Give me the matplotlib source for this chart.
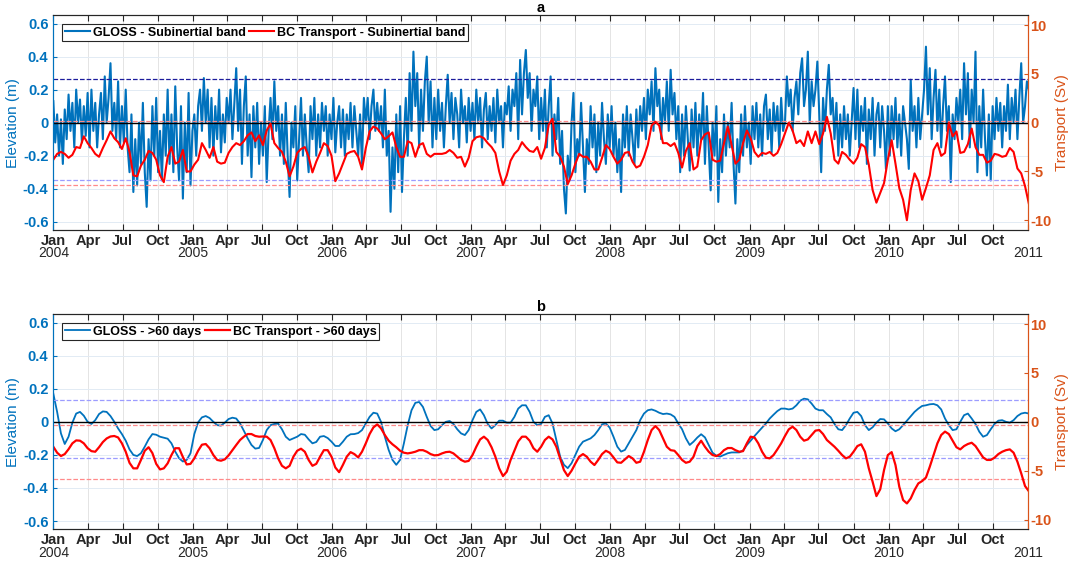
import numpy as np
import pandas as pd
import matplotlib
matplotlib.use('Agg')
import matplotlib.pyplot as plt
import matplotlib.dates as mdates
from matplotlib.ticker import FuncFormatter
from matplotlib.transforms import blended_transform_factory

plt.rcParams['font.family'] = ['Liberation Sans', 'DejaVu Sans']
plt.rcParams['font.weight'] = 'bold'
plt.rcParams['axes.unicode_minus'] = False

# sampling grids
t5 = pd.date_range('2004-01-01', periods=513, freq='5D')
t10 = pd.date_range('2004-01-01', periods=257, freq='10D')

# GLOSS sea level, subinertial band (m), 5-day steps
gloss_sub = [
    0.13, -0.12, 0.05, -0.20, 0.02, -0.25, 0.08, -0.10, 0.17, -0.05,
    0.12, -0.15, 0.20, 0.00, 0.14, -0.12, 0.10, -0.08, 0.18, -0.15,
    0.20, -0.05, 0.12, -0.15, 0.05, 0.18, -0.10, 0.28, 0.00, 0.15,
    0.36, -0.05, 0.12, -0.10, 0.25, -0.15, 0.10, -0.12, 0.20, -0.15,
    -0.30, 0.05, -0.42, -0.10, -0.38, 0.00, -0.25, 0.12, -0.30, -0.51,
    -0.10, -0.35, 0.10, -0.20, 0.15, -0.30, -0.05, -0.35, 0.05, -0.20,
    0.20, -0.25, 0.05, -0.30, 0.22, -0.15, -0.35, 0.10, -0.46, 0.00,
    -0.30, 0.18, -0.38, -0.05, 0.05, -0.20, 0.10, 0.20, -0.05, 0.27,
    0.00, 0.20, -0.15, 0.15, -0.20, 0.10, -0.10, 0.20, -0.18, 0.05,
    -0.12, 0.15, 0.00, 0.20, -0.10, 0.12, 0.33, -0.05, 0.20, -0.25,
    0.10, 0.28, -0.20, 0.05, -0.33, 0.10, -0.15, 0.12, -0.25, 0.00,
    -0.20, 0.10, -0.36, -0.05, 0.15, -0.10, 0.25, -0.05, 0.10, -0.20,
    0.05, -0.25, 0.12, -0.20, -0.45, 0.00, -0.15, 0.10, -0.35, -0.10,
    0.15, -0.20, 0.05, -0.15, -0.30, 0.10, -0.10, 0.15, -0.20, 0.05,
    -0.15, 0.12, -0.05, 0.10, -0.20, 0.05, -0.10, 0.15, -0.18, 0.00,
    0.10, -0.15, 0.08, -0.20, 0.05, -0.10, 0.12, -0.15, 0.10, -0.05,
    -0.20, 0.05, -0.25, 0.15, 0.00, 0.15, -0.10, 0.10, 0.20, -0.05,
    0.12, -0.05, 0.10, -0.15, 0.20, -0.20, -0.05, -0.54, -0.15, -0.40,
    0.05, -0.30, 0.10, -0.42, -0.10, 0.15, -0.20, 0.30, -0.05, 0.43,
    0.10, 0.30, -0.15, 0.20, -0.05, 0.25, 0.40, 0.00, 0.25, -0.15,
    0.15, -0.10, 0.20, -0.05, 0.12, -0.15, 0.10, 0.29, 0.00, 0.18,
    -0.10, 0.15, 0.05, -0.15, 0.20, 0.00, 0.10, -0.12, 0.15, -0.05,
    0.12, -0.10, 0.20, 0.00, 0.15, -0.15, 0.08, 0.18, -0.10, 0.10,
    -0.05, 0.15, -0.12, 0.20, 0.00, 0.10, -0.15, 0.12, 0.05, 0.22,
    -0.05, 0.20, 0.10, 0.30, -0.10, 0.38, 0.05, 0.30, 0.44, 0.15,
    0.30, -0.05, 0.20, 0.10, 0.28, -0.10, 0.15, -0.05, 0.20, -0.15,
    0.10, 0.28, -0.20, 0.05, -0.10, 0.15, -0.25, -0.05, -0.40, -0.55,
    -0.20, -0.35, 0.00, 0.18, -0.30, -0.10, -0.20, 0.12, -0.15, -0.42,
    -0.10, -0.25, 0.10, -0.15, 0.05, -0.30, 0.00, -0.20, 0.12, -0.10,
    -0.25, 0.05, -0.15, 0.10, -0.20, 0.00, -0.30, -0.10, -0.42, 0.05,
    -0.15, 0.10, -0.20, 0.05, -0.10, -0.25, 0.08, -0.15, 0.10, -0.05,
    0.15, -0.10, 0.20, 0.05, 0.25, -0.05, 0.33, 0.10, 0.20, -0.10,
    0.15, 0.00, 0.25, -0.05, 0.32, 0.05, 0.18, -0.10, 0.10, -0.30,
    0.05, -0.20, 0.10, -0.10, -0.29, 0.08, -0.15, 0.12, -0.20, 0.05,
    -0.10, 0.18, -0.25, 0.10, -0.15, -0.41, 0.00, -0.20, 0.10, -0.48,
    -0.10, -0.30, 0.05, -0.20, 0.00, -0.15, 0.12, -0.25, -0.49, -0.10,
    -0.30, 0.05, -0.20, 0.10, -0.15, 0.00, -0.25, 0.10, -0.10, 0.12,
    -0.15, 0.05, -0.20, 0.10, 0.17, -0.10, 0.08, -0.18, 0.12, -0.05,
    0.10, -0.15, 0.15, -0.05, 0.00, 0.28, 0.10, 0.20, -0.05, 0.15,
    0.25, 0.05, 0.30, 0.39, 0.10, 0.20, 0.43, 0.00, 0.25, 0.10,
    0.20, 0.37, 0.05, -0.30, 0.15, -0.05, 0.20, 0.35, 0.05, 0.15,
    -0.10, 0.12, -0.20, 0.05, -0.15, 0.10, -0.10, 0.05, -0.20, 0.00,
    0.21, -0.10, 0.20, -0.15, 0.10, -0.05, 0.15, -0.25, 0.08, -0.10,
    0.15, -0.20, 0.05, 0.12, -0.15, 0.10, -0.05, -0.28, 0.10, -0.20,
    0.10, -0.10, 0.15, -0.15, 0.05, -0.20, 0.10, 0.00, -0.10, -0.28,
    0.26, -0.05, 0.10, -0.15, 0.15, -0.10, 0.05, 0.20, 0.46, 0.05,
    0.33, -0.10, 0.15, 0.32, -0.05, 0.20, -0.15, 0.10, 0.28, -0.05,
    0.10, -0.36, 0.05, -0.10, 0.15, 0.00, 0.20, -0.10, 0.36, 0.05,
    0.30, -0.15, 0.20, 0.00, 0.43, -0.30, 0.10, -0.15, 0.20, -0.10,
    -0.32, 0.05, -0.35, 0.10, -0.10, 0.15, -0.05, 0.12, -0.15, 0.10,
    -0.05, 0.23, -0.10, 0.15, 0.00, 0.20, -0.10, 0.15, 0.36, 0.00,
    0.10, 0.25, 0.20,
]

# Brazil Current transport, subinertial band (Sv), 10-day steps
bc_sub = [
    -3.8, -3.2, -3.0, -3.2, -3.6, -3.3, -2.5, -2.6, -1.4, -2.1,
    -2.6, -3.2, -3.5, -2.6, -1.8, -0.9, -1.6, -2.0, -2.7, -1.6,
    -3.0, -5.4, -5.5, -4.4, -3.8, -2.9, -3.1, -3.8, -5.4, -6.1,
    -3.5, -2.5, -4.2, -4.0, -2.8, -5.0, -5.0, -4.3, -3.8, -2.1,
    -2.8, -3.6, -2.5, -4.0, -4.2, -4.1, -3.1, -2.5, -2.1, -2.3,
    -1.9, -1.3, -1.0, -1.9, -1.3, -2.3, -0.8, -0.1, -2.1, -2.6,
    -3.0, -4.0, -5.5, -4.5, -3.1, -2.7, -2.5, -3.5, -5.1, -4.0,
    -3.1, -2.1, -2.4, -3.4, -6.0, -5.2, -4.2, -3.2, -3.0, -2.9,
    -3.5, -4.8, -2.6, -0.9, -0.4, -0.6, -1.1, -1.7, -1.4, -1.0,
    -2.5, -3.5, -3.5, -1.9, -2.1, -3.5, -2.3, -2.1, -3.2, -3.5,
    -3.2, -3.2, -3.2, -3.1, -2.8, -3.1, -3.6, -3.5, -4.5, -3.6,
    -1.9, -1.5, -1.4, -1.6, -2.1, -2.5, -3.1, -5.0, -6.4, -5.4,
    -3.9, -3.2, -2.8, -2.0, -2.5, -2.9, -3.0, -2.5, -3.7, -2.6,
    -0.2, 0.4, -3.0, -3.5, -4.5, -6.3, -5.4, -4.2, -3.2, -3.5,
    -3.5, -4.0, -4.8, -4.8, -3.6, -2.3, -2.7, -3.5, -4.2, -3.8,
    -3.1, -3.0, -4.0, -4.6, -4.4, -3.5, -2.3, -0.3, 0.1, -0.3,
    -2.1, -2.1, -2.4, -2.1, -3.1, -4.6, -2.9, -2.1, -4.8, -4.5,
    -1.8, -1.2, -1.0, -3.8, -4.0, -3.9, -2.1, -0.4, -2.3, -4.2,
    -3.8, -2.1, -0.8, -1.6, -3.0, -3.5, -3.1, -3.2, -3.0, -3.4,
    -3.1, -2.2, -1.1, 0.0, -0.8, -2.1, -1.8, -2.4, -0.9, -2.1,
    -0.9, -2.2, -1.1, 0.6, -1.1, -3.8, -4.2, -3.0, -3.3, -3.8,
    -4.2, -3.6, -2.2, -2.5, -4.3, -6.9, -8.2, -7.2, -6.2, -3.8,
    -1.8, -4.2, -6.7, -7.9, -10.0, -6.9, -5.2, -6.0, -7.9, -6.7,
    -5.4, -2.8, -2.1, -3.4, -3.1, 0.0, -1.4, -0.9, -3.1, -3.0,
    -2.2, -0.6, -2.5, -3.3, -3.3, -4.1, -3.9, -3.2, -3.3, -3.5,
    -3.4, -2.6, -3.0, -4.7, -5.2, -6.5, -8.3,
]

# GLOSS sea level, periods > 60 days (m), 10-day steps
gloss_60 = [
    0.17, 0.06, -0.07, -0.134, -0.09, -0.005, 0.05, 0.06, 0.037, 0.0,
    -0.013, 0.01, 0.047, 0.063, 0.06, 0.035, 0.0, -0.04, -0.074, -0.114,
    -0.167, -0.2, -0.207, -0.19, -0.15, -0.106, -0.074, -0.078, -0.09, -0.096,
    -0.102, -0.13, -0.18, -0.22, -0.24, -0.23, -0.19, -0.074, -0.003, 0.027,
    0.035, 0.023, 0.0, -0.02, -0.023, -0.005, 0.017, 0.025, 0.02, -0.01,
    -0.054, -0.1, -0.14, -0.162, -0.158, -0.11, -0.05, -0.02, -0.013, -0.011,
    -0.045, -0.09, -0.11, -0.1, -0.09, -0.074, -0.078, -0.106, -0.13, -0.122,
    -0.09, -0.086, -0.098, -0.12, -0.146, -0.146, -0.12, -0.09, -0.075, -0.074,
    -0.068, -0.05, -0.01, 0.03, 0.055, 0.05, 0.0, -0.09, -0.17, -0.23,
    -0.26, -0.23, -0.13, -0.02, 0.07, 0.115, 0.12, 0.09, 0.03, -0.025,
    -0.05, -0.045, -0.02, 0.0, 0.005, -0.013, -0.045, -0.07, -0.08, -0.05,
    0.01, 0.06, 0.075, 0.04, -0.013, -0.04, -0.02, 0.007, 0.007, -0.005,
    -0.005, 0.03, 0.08, 0.1, 0.1, 0.06, 0.0, -0.02, -0.013, 0.03,
    0.04, -0.01, -0.11, -0.21, -0.26, -0.28, -0.25, -0.2, -0.15, -0.12,
    -0.11, -0.1, -0.08, -0.05, -0.015, -0.01, -0.035, -0.09, -0.15, -0.18,
    -0.17, -0.13, -0.09, -0.05, 0.01, 0.05, 0.07, 0.075, 0.067, 0.055,
    0.047, 0.05, 0.045, 0.03, -0.01, -0.045, -0.1, -0.14, -0.12, -0.095,
    -0.075, -0.094, -0.14, -0.187, -0.205, -0.21, -0.2, -0.19, -0.185, -0.185,
    -0.185, -0.173, -0.14, -0.114, -0.086, -0.06, -0.035, -0.01, 0.02, 0.043,
    0.065, 0.08, 0.08, 0.075, 0.08, 0.1, 0.128, 0.14, 0.136, 0.11,
    0.08, 0.07, 0.07, 0.047, 0.027, -0.013, -0.045, -0.05, -0.02, 0.02,
    0.055, 0.06, 0.035, -0.02, -0.05, -0.033, -0.005, 0.017, 0.015, -0.01,
    -0.04, -0.057, -0.045, -0.02, 0.007, 0.035, 0.06, 0.08, 0.096, 0.1,
    0.106, 0.108, 0.1, 0.075, 0.02, -0.02, -0.05, -0.045, 0.0, 0.04,
    0.05, 0.02, -0.013, -0.06, -0.09, -0.08, -0.045, -0.013, 0.007, 0.01,
    0.0, -0.005, 0.01, 0.035, 0.05, 0.055, 0.05,
]

# Brazil Current transport, periods > 60 days (Sv), 10-day steps
bc_60 = [
    -2.55, -3.16, -3.5, -3.3, -2.8, -2.2, -1.9, -1.93, -2.2, -2.7,
    -3.0, -3.06, -2.6, -2.07, -1.7, -1.5, -1.45, -1.6, -2.2, -3.06,
    -4.2, -4.76, -4.76, -3.9, -2.96, -2.6, -3.2, -4.3, -4.87, -4.76,
    -4.25, -3.4, -2.7, -2.7, -3.6, -4.36, -4.3, -3.74, -2.96, -2.34,
    -2.27, -2.7, -3.4, -3.9, -3.98, -3.84, -3.43, -2.9, -2.37, -1.86,
    -1.52, -1.25, -1.25, -1.45, -1.52, -1.5, -1.52, -1.86, -2.7, -3.74,
    -4.5, -4.76, -4.5, -3.57, -2.96, -2.75, -3.06, -3.9, -4.5, -4.3,
    -3.57, -2.9, -2.9, -3.57, -4.67, -5.15, -4.4, -3.57, -3.1, -3.3,
    -3.64, -3.06, -2.2, -1.25, -0.57, -0.26, -0.67, -1.35, -1.93, -2.3,
    -2.6, -2.96, -3.16, -3.23, -3.16, -3.06, -2.9, -2.9, -3.06, -3.3,
    -3.43, -3.4, -3.23, -3.1, -3.06, -3.23, -3.57, -3.9, -4.08, -4.0,
    -3.4, -2.55, -1.8, -1.52, -1.86, -2.6, -3.57, -4.76, -5.55, -5.1,
    -3.9, -2.96, -2.0, -1.52, -1.52, -1.93, -2.7, -3.06, -2.55, -1.86,
    -1.52, -1.8, -2.55, -3.74, -4.94, -5.55, -5.0, -4.26, -3.57, -3.3,
    -3.57, -4.08, -4.42, -3.9, -3.3, -2.96, -3.16, -3.64, -4.15, -4.19,
    -3.84, -3.5, -3.74, -4.19, -4.08, -3.06, -1.86, -0.84, -0.43, -0.84,
    -1.7, -2.55, -2.9, -2.96, -3.4, -3.9, -4.19, -4.08, -3.57, -2.48,
    -1.93, -2.55, -3.06, -3.4, -3.5, -3.3, -2.9, -2.68, -2.68, -2.9,
    -3.06, -3.0, -2.2, -1.52, -1.6, -2.2, -3.06, -3.67, -3.74, -3.4,
    -2.82, -2.2, -1.45, -0.77, -0.5, -0.84, -1.52, -1.93, -1.8, -1.35,
    -0.9, -0.84, -1.25, -1.86, -2.2, -2.55, -2.96, -3.4, -3.74, -3.57,
    -3.06, -2.48, -2.3, -3.06, -4.76, -6.13, -7.6, -6.9, -4.94, -3.4,
    -3.1, -4.42, -6.64, -8.0, -8.35, -7.84, -6.98, -6.3, -6.06, -5.7,
    -4.6, -3.4, -2.2, -1.35, -1.0, -1.25, -1.93, -2.6, -2.82, -2.48,
    -2.27, -2.14, -2.48, -3.06, -3.64, -3.9, -3.9, -3.67, -3.3, -3.06,
    -2.9, -2.82, -3.16, -4.08, -5.27, -6.57, -7.1,
]

# mean +/- 2 std levels (upper, lower)
gloss_sub_lev = [0.265, -0.345]
bc_sub_lev = [0.2, -6.4]
gloss_60_lev = [0.134, -0.22]
bc_60_lev = [-0.35, -5.8]

qticks = pd.date_range('2004-01-01', '2011-01-01', freq='QS')
qlabels = [d.strftime('%b') if d.year < 2011 else '' for d in qticks]
years = pd.date_range('2004-01-01', '2011-01-01', freq='YS')

BLUE = '#0072BD'
ORANGE = '#D95319'
DARK = '#262626'


def draw_panel(ax, tag, gloss, bc, t_gloss, g_lev, b_lev, names, dark_top,
               lw_blue, lw_red):
    ax2 = ax.twinx()
    ax.set_xlim(pd.Timestamp('2004-01-01'), pd.Timestamp('2011-01-01'))
    ax.set_ylim(-0.65, 0.65)
    ax2.set_ylim(-11, 11)

    ax.grid(True, axis='x', color='#e4e4e4', lw=0.7)
    ax.grid(True, axis='y', color='#e2ebf4', lw=0.7)
    ax.set_axisbelow(True)

    h1, = ax.plot(t_gloss, gloss, color=BLUE, lw=lw_blue)
    ax.axhline(g_lev[0], color='#1c1c9c' if dark_top else '#9c9cff',
               ls='--', lw=0.9)
    ax.axhline(g_lev[1], color='#9c9cff', ls='--', lw=0.9)

    for lv in b_lev:
        ax2.axhline(lv, color='#ff8a8a', ls='--', lw=0.9)
    ax2.axhline(0, color='black', lw=1.0)
    h2, = ax2.plot(t10, bc, color='red', lw=lw_red)

    ax.set_yticks([-0.6, -0.4, -0.2, 0, 0.2, 0.4, 0.6])
    ax.yaxis.set_major_formatter(FuncFormatter(lambda v, p: f'{v:g}'))
    ax2.set_yticks([-10, -5, 0, 5, 10])

    ax.set_xticks(qticks)
    ax.set_xticklabels(qlabels)
    ax.tick_params(axis='x', direction='in', top=True, length=4, width=0.8,
                   color=DARK, labelcolor=DARK, labelsize=10.5, pad=3)
    ax.tick_params(axis='y', direction='in', length=3, width=0.8,
                   color=BLUE, labelcolor=BLUE, labelsize=10.5, pad=3.5)
    ax2.tick_params(axis='y', direction='in', length=3, width=0.8,
                    color=ORANGE, labelcolor=ORANGE, labelsize=10.5, pad=2)

    for a in (ax, ax2):
        a.spines['top'].set_color(DARK)
        a.spines['bottom'].set_color(DARK)
        a.spines['left'].set_color(BLUE)
        a.spines['right'].set_color(ORANGE)
        for s in a.spines.values():
            s.set_linewidth(0.8)

    ax.set_ylabel('Elevation (m)', color=BLUE, fontsize=11, labelpad=2)
    ax2.set_ylabel('Transport (Sv)', color=ORANGE, fontsize=11, labelpad=2)
    ax.set_title(tag, fontsize=10.5, fontweight='bold', pad=1.5)

    trans = blended_transform_factory(ax.transData, ax.transAxes)
    for y in years:
        ax.text(mdates.date2num(y), -0.108, str(y.year), transform=trans,
                ha='center', va='center', fontsize=10, fontweight='normal',
                color=DARK)

    leg = ax2.legend([h1, h2], names, loc='upper left',
                     bbox_to_anchor=(0.009, 0.958), ncol=2, fancybox=False,
                     edgecolor=DARK, framealpha=1, borderaxespad=0,
                     prop={'weight': 'bold', 'size': 9}, handlelength=2.0,
                     handletextpad=0.25, columnspacing=0.3, borderpad=0.2)
    leg.get_frame().set_linewidth(0.8)


fig = plt.figure(figsize=(10.75, 5.63), dpi=100)
ax_a = fig.add_axes([0.0496, 0.5915, 0.9064, 0.3813])
ax_b = fig.add_axes([0.0496, 0.0598, 0.9064, 0.3819])

draw_panel(ax_a, 'a', gloss_sub, bc_sub, t5, gloss_sub_lev, bc_sub_lev,
           ['GLOSS - Subinertial band', 'BC Transport - Subinertial band'],
           True, 1.5, 1.5)
draw_panel(ax_b, 'b', gloss_60, bc_60, t10, gloss_60_lev, bc_60_lev,
           ['GLOSS - >60 days', 'BC Transport - >60 days'], False, 1.3, 1.6)

fig.savefig('out.png', dpi=100)
